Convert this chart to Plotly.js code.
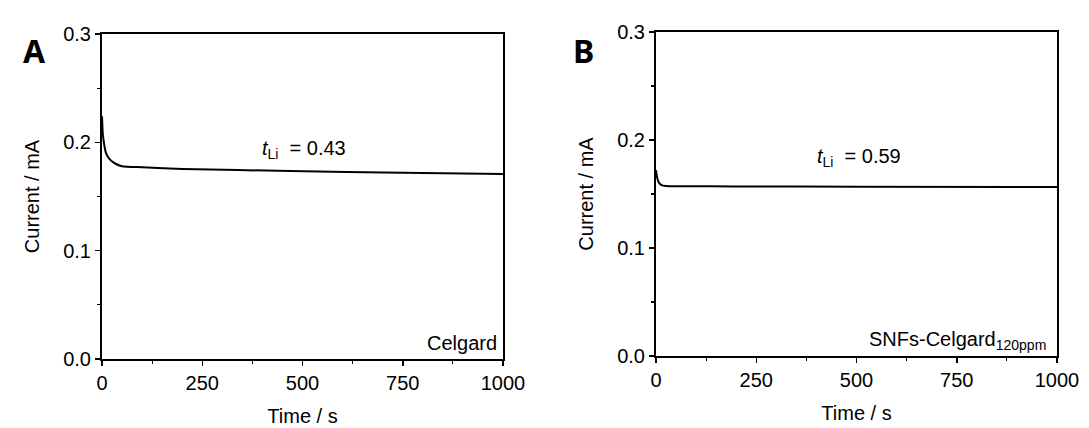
<!DOCTYPE html>
<html>
<head>
<meta charset="utf-8">
<script src="https://cdn.plot.ly/plotly-3.0.1.min.js"></script>
<style>html,body{margin:0;padding:0;background:#fff;}#chart{width:1089px;height:428px;}</style>
</head>
<body>
<div id="chart"></div>
<script>
// Panel A: Celgard
const timeA = [0, 2, 5, 10, 20, 35, 50, 100, 200, 470, 750, 1000];
const currentA = [0.224, 0.208, 0.199, 0.19, 0.184, 0.18, 0.178, 0.177, 0.1755, 0.1735, 0.172, 0.1708];
// Panel B: SNFs-Celgard 120ppm
const timeB = [0, 3, 8, 15, 25, 50, 200, 500, 1000];
const currentB = [0.172, 0.165, 0.16, 0.158, 0.1575, 0.1572, 0.157, 0.1568, 0.1565];

const xTicks = [0, 250, 500, 750, 1000];
const yTicks = [0, 0.1, 0.2, 0.3];
const panelLabels = ['A', 'B'];
const sampleLabels = ['Celgard', 'SNFs-Celgard<sub>120ppm</sub>'];
const tLabels = ['<i>t</i><sub>Li</sub>  = 0.43', '<i>t</i><sub>Li</sub>  = 0.59'];

const font = 'Liberation Sans, Arial, sans-serif';

const traces = [
  {x: timeA, y: currentA, xaxis: 'x', yaxis: 'y', mode: 'lines', line: {color: '#000', width: 2, shape: 'spline', smoothing: 0.6}, hoverinfo: 'skip'},
  {x: timeB, y: currentB, xaxis: 'x2', yaxis: 'y2', mode: 'lines', line: {color: '#000', width: 2, shape: 'spline', smoothing: 0.6}, hoverinfo: 'skip'}
];

function xAxis(domain, anchor) {
  return {
    domain: domain, anchor: anchor, range: [0, 1000],
    tickvals: xTicks, ticktext: xTicks.map(String),
    ticks: 'outside', ticklen: 5, tickwidth: 1.5, tickcolor: '#000',
    minor: {dtick: 125, tick0: 0, ticks: 'outside', ticklen: 3, tickwidth: 1.2, tickcolor: '#000'},
    showline: true, mirror: true, linewidth: 2, linecolor: '#000',
    showgrid: false, zeroline: false,
    tickfont: {family: font, size: 20, color: '#000'},
    title: {text: 'Time / s', font: {family: font, size: 20, color: '#000'}, standoff: 16}
  };
}
function yAxis(domain, anchor) {
  return {
    domain: domain, anchor: anchor, range: [0, 0.3],
    tickvals: yTicks, ticktext: yTicks.map(v => v.toFixed(1)),
    ticks: 'outside', ticklen: 5, tickwidth: 1.5, tickcolor: '#000',
    minor: {dtick: 0.05, tick0: 0, ticks: 'outside', ticklen: 3, tickwidth: 1.2, tickcolor: '#000'},
    showline: true, mirror: true, linewidth: 2, linecolor: '#000',
    showgrid: false, zeroline: false,
    tickfont: {family: font, size: 20, color: '#000'},
    title: {text: 'Current / mA', font: {family: font, size: 20, color: '#000'}, standoff: 18}
  };
}

const layout = {
  width: 1089, height: 428,
  margin: {l: 0, r: 0, t: 0, b: 0},
  paper_bgcolor: '#fff', plot_bgcolor: '#fff',
  showlegend: false,
  xaxis: xAxis([102/1089, 503/1089], 'y'),
  yaxis: yAxis([1 - 359/428, 1 - 34/428], 'x'),
  xaxis2: xAxis([656/1089, 1057/1089], 'y2'),
  yaxis2: yAxis([1 - 356/428, 1 - 32/428], 'x2'),
  annotations: [
    {text: '<b>' + panelLabels[0] + '</b>', xref: 'paper', yref: 'paper', x: 21/1089, y: 1 - 27/428, showarrow: false, font: {family: 'Noto Sans, sans-serif', size: 32, color: '#000'}},
    {text: '<b>' + panelLabels[1] + '</b>', xref: 'paper', yref: 'paper', x: 583/1089, y: 1 - 27/428, showarrow: false, font: {family: 'Noto Sans, sans-serif', size: 32, color: '#000'}},
    {text: tLabels[0], xref: 'x', yref: 'y', x: 504, y: 0.193, xanchor: 'center', showarrow: false, font: {family: font, size: 20, color: '#000'}},
    {text: tLabels[1], xref: 'x2', yref: 'y2', x: 506, y: 0.184, xanchor: 'center', showarrow: false, font: {family: font, size: 20, color: '#000'}},
    {text: sampleLabels[0], xref: 'x', yref: 'y', x: 990, y: 0.015, xanchor: 'right', showarrow: false, font: {family: font, size: 20, color: '#000'}},
    {text: sampleLabels[1], xref: 'x2', yref: 'y2', x: 978, y: 0.014, xanchor: 'right', showarrow: false, font: {family: font, size: 20, color: '#000'}}
  ]
};

Plotly.newPlot('chart', traces, layout, {staticPlot: true, displayModeBar: false});
</script>
</body>
</html>
